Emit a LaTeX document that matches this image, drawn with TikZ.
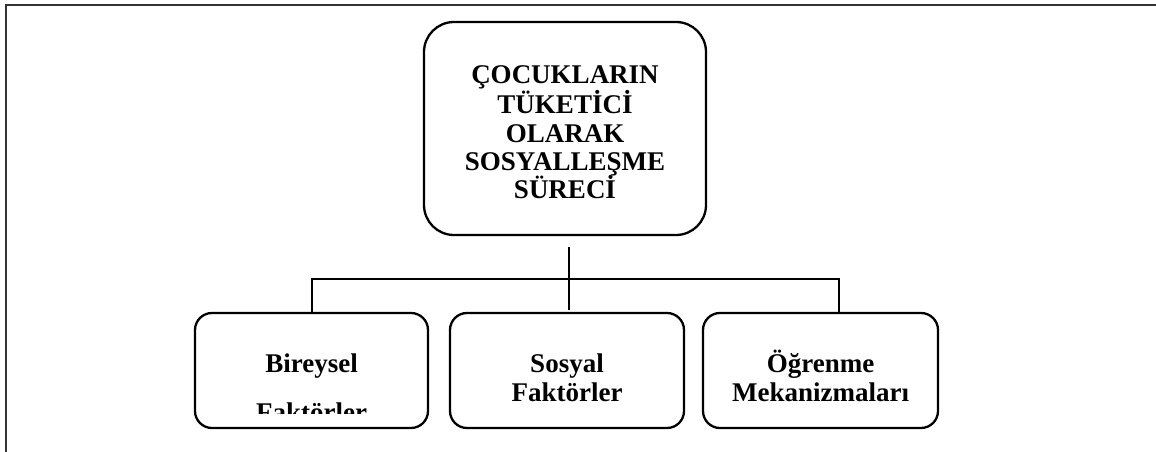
\documentclass[tikz,border=0pt]{standalone}
\usepackage{fontspec}
\setmainfont{Liberation Serif}
\begin{document}
\begin{tikzpicture}[x=1pt,y=-1pt,
  boxtop/.style={draw,line width=2.3pt,rounded corners=30pt,minimum width=282pt,minimum height=213pt,inner sep=0pt},
  boxbot/.style={draw,line width=2.3pt,rounded corners=17pt,minimum height=115pt,inner sep=0pt},
  lbl/.style={anchor=base,inner sep=0pt,font=\fontsize{27}{29}\selectfont\bfseries},
  conn/.style={line width=1.5pt}]
\useasboundingbox (0,0) rectangle (1156,452);
% frame
\draw[line width=2pt,black!80] (6,452) -- (6,5) -- (1156,5);
% boxes
\node[boxtop] (top) at (565,128.5) {};
\node[boxbot,minimum width=233pt] (b1) at (311.5,370.5) {};
\node[boxbot,minimum width=234pt] (b2) at (567,370.5) {};
\node[boxbot,minimum width=235pt] (b3) at (820.5,370.5) {};
% top text
\node[lbl] (t1) at (565,83) {ÇOCUKLARIN};
\node[lbl] (t2) at (565,113) {TÜKETİCİ};
\node[lbl] (t3) at (565,142) {OLARAK};
\node[lbl] (t4) at (565,170) {SOSYALLEŞME};
\node[lbl] (t5) at (565,198) {SÜRECİ};
% bottom texts
\node[lbl] (a1) at (311.5,372) {Bireysel};
\begin{scope}
\clip (195,380) rectangle (428,413);
\node[lbl] (a2) at (311.5,421) {Faktörler};
\end{scope}
\node[lbl] (c1) at (567,372) {Sosyal};
\node[lbl] (c2) at (567,401) {Faktörler};
\node[lbl] (d1) at (820.5,372) {Öğrenme};
\node[lbl] (d2) at (820.5,401) {Mekanizmaları};
% connectors
\coordinate (v1) at (569,247);
\coordinate (v2) at (569,310);
\coordinate (hl) at (312,279);
\coordinate (hr) at (839,279);
\draw[conn] (v1) -- (v2);
\draw[conn] (hl |- b1.north) -- (hl) -- (hr) -- (hr |- b3.north);
\end{tikzpicture}
\end{document}
